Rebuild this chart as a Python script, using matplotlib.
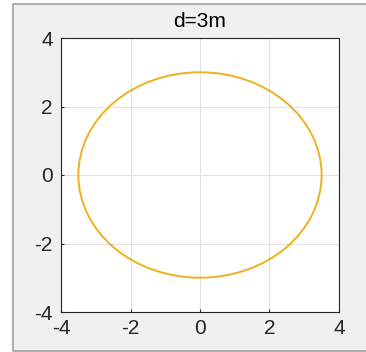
import matplotlib
matplotlib.use('Agg')
import matplotlib.pyplot as plt
from matplotlib.patches import Ellipse, Rectangle
from matplotlib.lines import Line2D

# ellipse seen in the picture (semi-axes in m)
center = (0.0, 0.0)
semi_x = 3.5
semi_y = 3.0
title = 'd=3m'
ticks = [-4, -2, 0, 2, 4]

plt.rcParams['axes.unicode_minus'] = False
plt.rcParams['font.family'] = ['Liberation Sans', 'DejaVu Sans']

fig = plt.figure(figsize=(3.66, 3.52), dpi=100, facecolor='white')

# grey panel like the MATLAB window, framed on left, top and bottom
x0, y0, y1 = 13 / 366, 1.5 / 352, 348 / 352
panel = Rectangle((x0, y0), 1.0, y1 - y0, transform=fig.transFigure,
                  facecolor='#f0f0f0', edgecolor='none', zorder=-10)
fig.add_artist(panel)
frame = Line2D([1.0, x0, x0, 1.0], [y1, y1, y0, y0], transform=fig.transFigure,
               color='#9aa0a8', linewidth=1.2, zorder=-9)
fig.add_artist(frame)

ax = fig.add_axes([61 / 366, 40 / 352, 278 / 366, 274 / 352])
ax.set_zorder(1)
ax.set_facecolor('white')

ell = Ellipse(center, 2 * semi_x, 2 * semi_y, fill=False,
              edgecolor='#EDB120', linewidth=1.4)
ax.add_patch(ell)

ax.set_xlim(-4, 4)
ax.set_ylim(-4, 4)
ax.set_xticks(ticks)
ax.set_yticks(ticks)
ax.grid(True, color='#e3e3e3', linewidth=0.8)
ax.set_axisbelow(True)
ax.tick_params(direction='in', length=2.5, width=0.8, colors='#262626',
               labelsize=15, pad=5)
ax.tick_params(axis='y', pad=6)
for s in ax.spines.values():
    s.set_color('#262626')
    s.set_linewidth(0.8)
ax.set_title(title, fontsize=15, color='#000000', pad=8)

fig.savefig('out.png', dpi=100, facecolor=fig.get_facecolor())
